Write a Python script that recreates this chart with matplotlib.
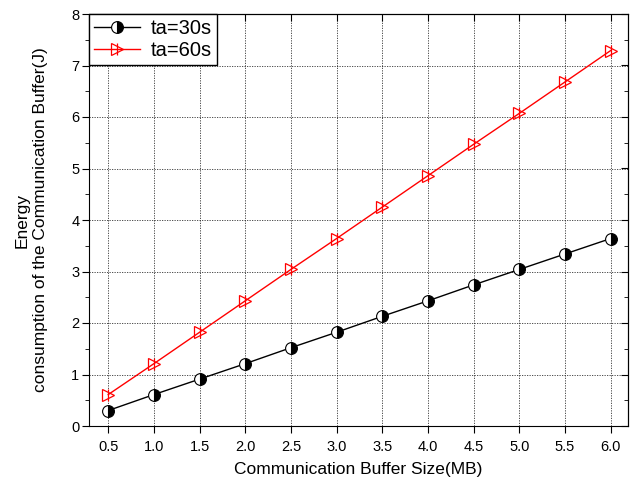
import matplotlib
matplotlib.use("Agg")
import matplotlib.pyplot as plt
from matplotlib.ticker import MultipleLocator

plt.rcParams['font.family'] = ['Liberation Sans', 'DejaVu Sans']

buffer_mb = [0.5, 1.0, 1.5, 2.0, 2.5, 3.0, 3.5, 4.0, 4.5, 5.0, 5.5, 6.0]
energy_ta30 = [0.30, 0.61, 0.91, 1.21, 1.52, 1.82, 2.13, 2.43, 2.74, 3.04, 3.34, 3.64]
energy_ta60 = [0.61, 1.21, 1.82, 2.43, 3.04, 3.64, 4.25, 4.86, 5.47, 6.07, 6.68, 7.29]
x_ticks = [0.5, 1.0, 1.5, 2.0, 2.5, 3.0, 3.5, 4.0, 4.5, 5.0, 5.5, 6.0]
y_ticks = [0, 1, 2, 3, 4, 5, 6, 7, 8]
y_label_lines = ['Energy', 'consumption of the Communication Buffer(J)']

W, H = 643, 483
fig = plt.figure(figsize=(W / 100, H / 100), dpi=100)
ax = fig.add_axes([89/W, 1 - 426/H, (628-89)/W, (426-14)/H])

l1, = ax.plot(buffer_mb, energy_ta30, color='black', lw=1, marker='o', ms=8.5,
              fillstyle='right', markerfacecolor='black', markerfacecoloralt='white',
              markeredgecolor='black', mew=0.8, zorder=3)
l2, = ax.plot(buffer_mb, energy_ta60, color='red', lw=1, marker='>', ms=9,
              markerfacecolor='none', markeredgecolor='red', mew=0.9, zorder=3)
l2bar, = ax.plot(buffer_mb, energy_ta60, ls='none', marker='|', ms=9,
                 markeredgecolor='red', mew=0.9, zorder=3)

ax.set_xlim(0.29, 6.19)
ax.set_ylim(0, 8)
ax.set_xticks(x_ticks)
ax.set_xticklabels([f"{v:.1f}" for v in x_ticks])
ax.set_yticks(y_ticks)
ax.yaxis.set_minor_locator(MultipleLocator(0.5))

ax.grid(True, which='major', color='black', ls=(0, (1.5, 1.5)), lw=0.6, alpha=0.8)
ax.set_axisbelow(True)

ax.tick_params(axis='both', which='both', direction='out', labelsize=10.5,
               top=False, right=False)
ax.tick_params(which='major', length=5)
ax.tick_params(which='minor', length=3)
ax.tick_params(axis='y', pad=2)
ax.tick_params(axis='x', pad=5)

# inward ticks along the top and right frame
sec_x = ax.secondary_xaxis('top')
sec_x.set_xticks(x_ticks)
sec_x.tick_params(direction='in', length=5, labeltop=False)
sec_y = ax.secondary_yaxis('right')
sec_y.set_yticks(y_ticks)
sec_y.yaxis.set_minor_locator(MultipleLocator(0.5))
sec_y.tick_params(direction='in', length=5, labelright=False)
sec_y.tick_params(which='minor', direction='in', length=3)

ax.set_xlabel('Communication Buffer Size(MB)', fontsize=12.5, labelpad=6)

# two-line y label, each line centred on the axis
for x_px, line in zip([22, 41], y_label_lines):
    fig.text(x_px / W, 1 - 220 / H, line, rotation=90, fontsize=12.5,
             ha='center', va='center')

leg = ax.legend([l1, (l2, l2bar)], ['ta=30s', 'ta=60s'], loc='upper left',
                fontsize=14.5, frameon=True, fancybox=False,
                edgecolor='black', borderaxespad=0, handlelength=2.3,
                handletextpad=0.5, borderpad=0.25, labelspacing=0.15)
leg.get_frame().set_linewidth(1)
leg.get_frame().set_alpha(1)

fig.savefig('out.png', dpi=100)
